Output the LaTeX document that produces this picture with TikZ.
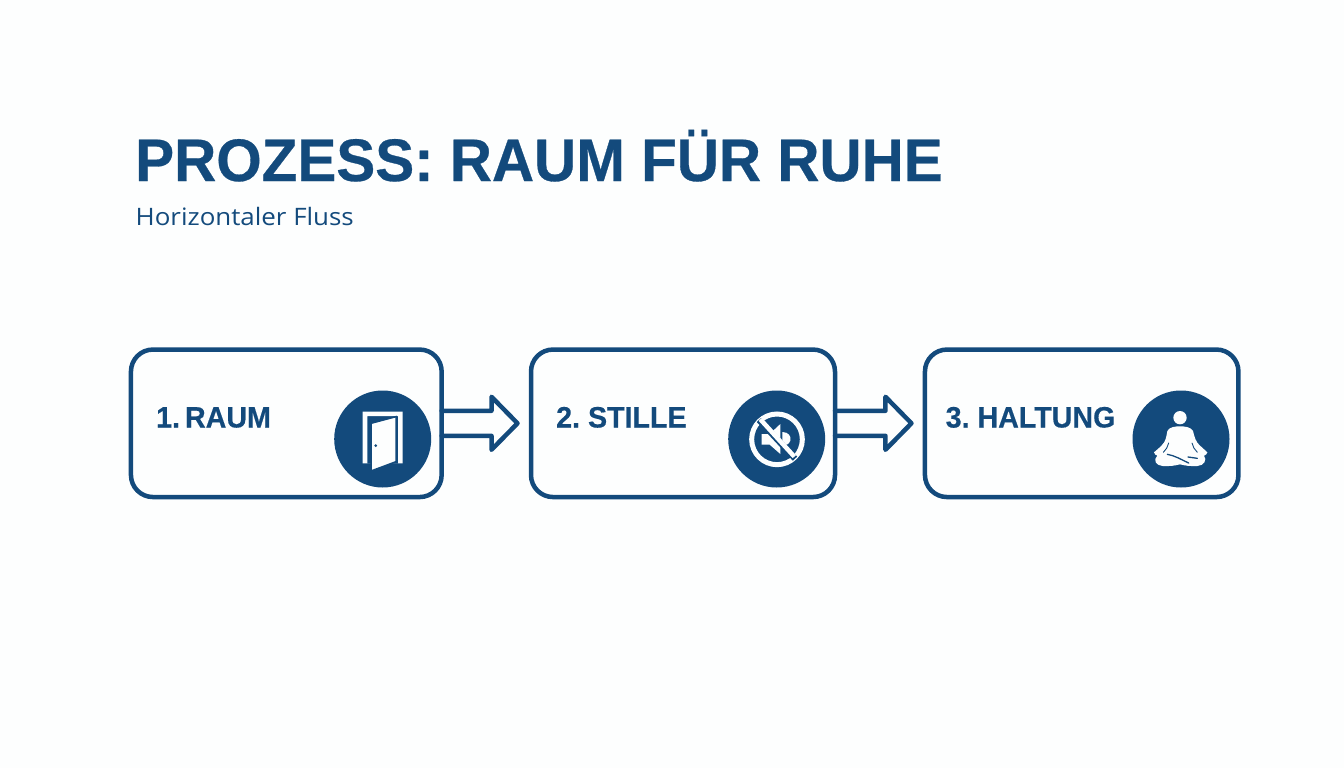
\documentclass[tikz,border=0pt]{standalone}
\usepackage{fontspec}
\setmainfont{Liberation Sans}
\newfontfamily\titlefont[FakeStretch=0.973,FakeBold=0.5]{Liberation Sans}
\newfontfamily\labelfont[FakeBold=0.4,FakeStretch=0.97]{Liberation Sans}
\newfontfamily\subfont[FakeStretch=1.08]{Open Sans}
\usetikzlibrary{calc}
\definecolor{navy}{HTML}{134A7C}
\definecolor{paper}{HTML}{FDFEFE}
\tikzset{
  stepbox/.style={draw=navy,line width=4.5pt,rounded corners=22pt,minimum height=147.5pt,outer sep=0pt,inner sep=0pt},
  steptext/.style={anchor=base west,text=navy,inner sep=0pt,font=\labelfont\fontsize{29.5}{30}\selectfont\bfseries},
  badge/.style={circle,fill=navy,minimum size=97pt,inner sep=0pt,outer sep=0pt},
  blockarrow/.style={draw=navy,line width=4.5pt,line join=round,line cap=round},
  iconcut/.style={draw=navy,line cap=round},
}
\newcommand{\hollowarrow}[2]{%
  \draw[blockarrow] ([yshift=12.5pt]#1.east) -- ($(#2.west)+(-39.5,-12.5)$) -- ($(#2.west)+(-39.5,-26.5)$)
    -- ($(#2.west)+(-13.5,0)$) -- ($(#2.west)+(-39.5,26.5)$) -- ($(#2.west)+(-39.5,12.5)$) -- ([yshift=-12.5pt]#1.east);}
\begin{document}
\begin{tikzpicture}[x=1pt,y=-1pt]
\useasboundingbox[fill=paper] (0,0) rectangle (1344,768);
\node[anchor=base west,text=navy,inner sep=0pt,font=\titlefont\fontsize{60}{60}\selectfont\bfseries] (title) at (135,181) {PROZESS: RAUM FÜR RUHE};
\node[anchor=base west,text=navy,inner sep=0pt,font=\subfont\fontsize{24}{24}\selectfont] (sub) at (135.5,225.5) {Horizontaler Fluss};

\node[stepbox,minimum width=310.7pt] (box1) at (286.3,423.3) {};
\node[stepbox,minimum width=304pt] (box2) at (683,423.3) {};
\node[stepbox,minimum width=313.5pt] (box3) at (1081.7,423.3) {};

\hollowarrow{box1}{box2}
\hollowarrow{box2}{box3}

\node[steptext] (t1) at (156,427.5) {1.\hspace{5pt}RAUM};
\node[steptext] (t2) at (556,427.5) {2.\hspace{8pt}STILLE};
\node[steptext] (t3) at (945.5,427.5) {3.\hspace{8pt}HALTUNG};

\node[badge] (c1) at (382.7,439) {};
\node[badge] (c2) at (776.7,439) {};
\node[badge] (c3) at (1181,439) {};

% door
\begin{scope}[shift={(320,380)},xscale=1/3,yscale=1/3]
  \fill[paper,even odd rule] (128,95) -- (248,95) -- (248,250) -- (128,250) -- cycle
     (142,108) -- (234,108) -- (234,250) -- (142,250) -- cycle;
  \draw[navy,line width=1.5pt,fill=paper] (153,130) -- (228,110) -- (228,245) -- (153,273) -- cycle;
  \fill[navy] (167,197) circle (4.5);
\end{scope}

% muted speaker
\begin{scope}[shift={(745,408)},xscale=1/3,yscale=1/3]
  \draw[paper,line width=5pt] (96,94) circle (76);
  \fill[paper] (50,78) -- (74,78) -- (106,48) -- (106,138) -- (74,110) -- (50,110) -- cycle;
  \fill[paper] (112,72) .. controls (130,72) and (140,85) .. (136,98) .. controls (132,110) and (122,112) .. (112,112) -- cycle;
  \draw[navy,line width=6pt] (42,36) -- (150,152);
  \draw[paper,line width=4.5pt] (46,34) -- (148,146);
\end{scope}

% meditating figure
\begin{scope}[shift={(1150,405)},xscale=1/3,yscale=1/3]
  \fill[paper] (90,38) circle (20);
  \fill[paper] (90,64) .. controls (105,64) and (122,66) .. (129,78)
     .. controls (133,95) and (137,110) .. (148,120)
     .. controls (155,128) and (165,134) .. (172,142)
     .. controls (170,148) and (168,150) .. (162,152)
     .. controls (172,165) and (162,182) .. (142,183)
     .. controls (120,184) and (105,182) .. (90,178)
     .. controls (75,182) and (60,184) .. (38,183)
     .. controls (18,182) and (8,165) .. (22,152)
     .. controls (16,150) and (14,148) .. (12,142)
     .. controls (20,134) and (30,128) .. (36,120)
     .. controls (47,110) and (49,95) .. (52,78)
     .. controls (58,66) and (75,64) .. (90,64) -- cycle;
  \draw[iconcut,line width=1.3pt] (52,148) .. controls (75,152) and (90,162) .. (116,174);
  \draw[iconcut,line width=1.3pt] (114,156) -- (142,160);
  \draw[iconcut,line width=0.9pt] (40,142) .. controls (48,134) and (54,125) .. (56,114);
  \draw[iconcut,line width=0.9pt] (142,142) .. controls (134,134) and (128,125) .. (126,114);
\end{scope}
\end{tikzpicture}
\end{document}
